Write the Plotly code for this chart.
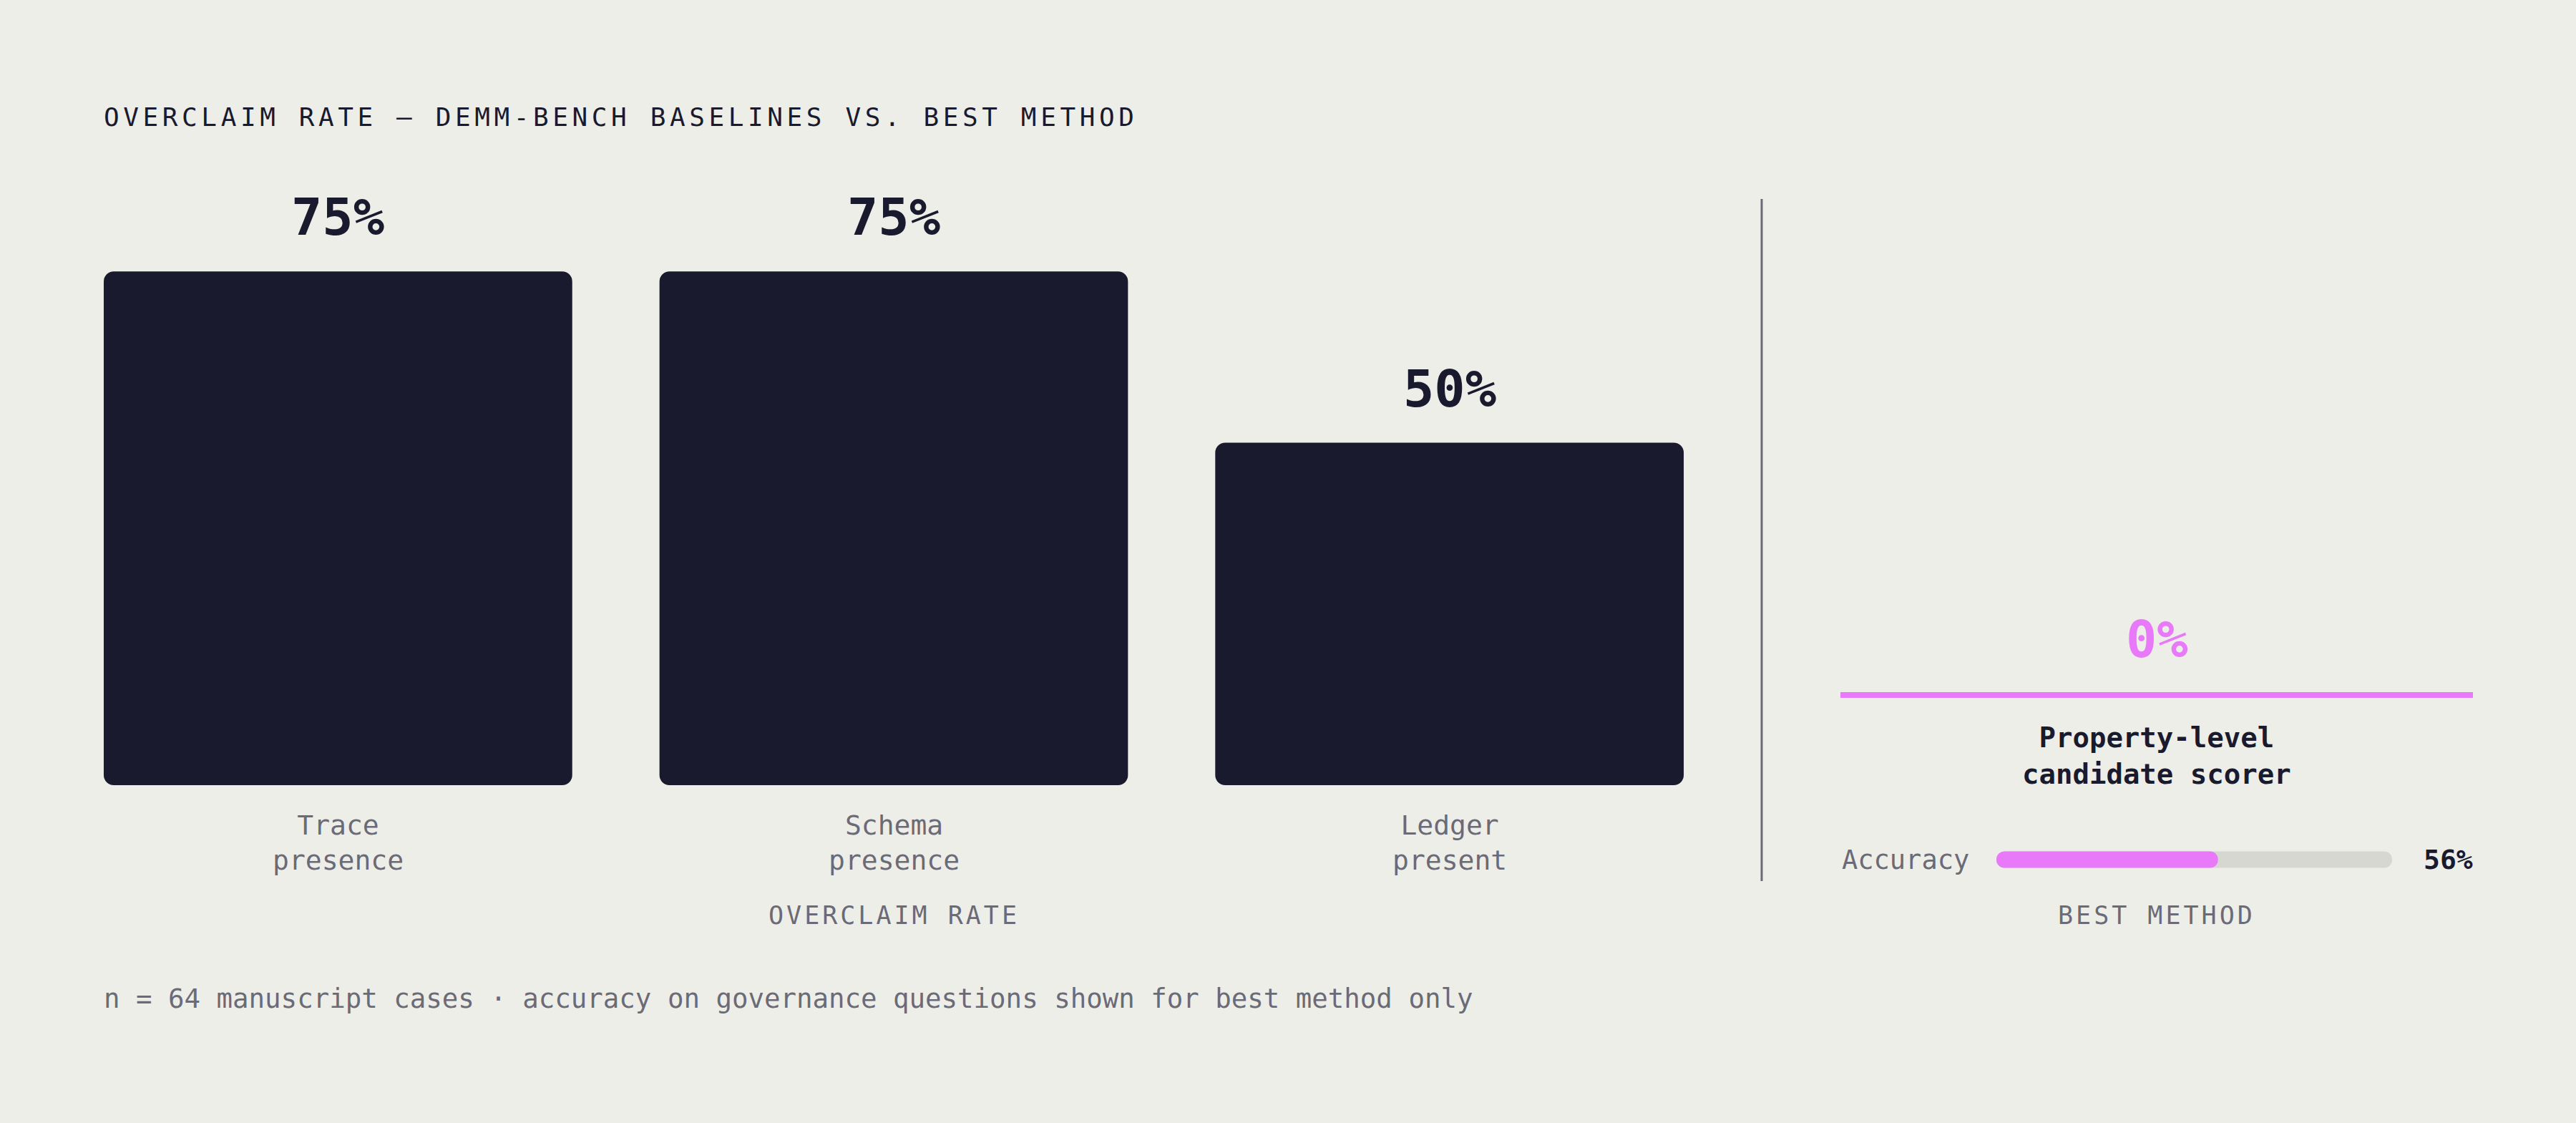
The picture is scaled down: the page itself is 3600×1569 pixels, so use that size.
import plotly.graph_objects as go

# ---------------- data ----------------
categories = ["Trace presence", "Schema presence", "Ledger present"]
overclaim_rates = [75, 75, 50]
best_method_name = "Property-level candidate scorer"
best_overclaim = [0]
best_accuracy = [56]
accuracy_max = [100]

title_text = "OVERCLAIM RATE — DEMM-BENCH BASELINES VS. BEST METHOD"
footnote_text = "n = 64 manuscript cases · accuracy on governance questions shown for best method only"

# ---------------- style ----------------
W, H = 3600, 1569
BG = "#eeeee9"
DARK = "#1a1a2e"
GREY = "#6b6a77"
PINK = "#e879f9"
TRACK = "#d7d7d1"
FONT = "DejaVu Sans Mono"


def px_x(p):
    return p / W


def px_y(p):
    return 1 - p / H


fig = go.Figure()

# --- left panel: baseline overclaim bars
fig.add_trace(go.Bar(x=categories, y=overclaim_rates, base=[0] * len(overclaim_rates),
                     marker=dict(color=DARK, cornerradius=14, line=dict(width=0)),
                     xaxis="x", yaxis="y", hoverinfo="skip", showlegend=False))

# --- right panel: best-method overclaim (zero) line
fig.add_trace(go.Scatter(x=[0, 1], y=[best_overclaim[0], best_overclaim[0]], mode="lines",
                         line=dict(color=PINK, width=8), xaxis="x3", yaxis="y3",
                         hoverinfo="skip", showlegend=False))

# --- accuracy pill bar
for vals, col in ((accuracy_max, TRACK), (best_accuracy, PINK)):
    fig.add_trace(go.Bar(y=[0], x=vals, base=[0], orientation="h",
                         width=0.575, marker=dict(color=col, cornerradius=12, line=dict(width=0)),
                         xaxis="x2", yaxis="y2", hoverinfo="skip", showlegend=False))

annotations = []
for c, v in zip(categories, overclaim_rates):
    annotations.append(dict(x=c, y=v, xref="x", yref="y", text=f"{v}%", showarrow=False,
                            yanchor="middle", yshift=76,
                            font=dict(family=FONT, size=72, color=DARK, weight="bold")))
    annotations.append(dict(x=c, y=0, xref="x", yref="y", text=c.replace(" ", "<br>"),
                            showarrow=False, yanchor="middle", yshift=-80,
                            font=dict(family=FONT, size=38, color=GREY)))

annotations.append(dict(x=categories[1], y=px_y(1279), xref="x", yref="paper", text="OVERCLAIM RATE",
                        showarrow=False, yanchor="middle",
                        font=dict(family=FONT, size=35, color=GREY)))

annotations.append(dict(x=0.5, y=best_overclaim[0], xref="x3", yref="y3", text=f"{best_overclaim[0]}%",
                        showarrow=False, yanchor="middle", yshift=78,
                        font=dict(family=FONT, size=72, color=PINK, weight="bold")))
annotations.append(dict(x=0.5, y=best_overclaim[0], xref="x3", yref="y3",
                        text=best_method_name.replace("level ", "level<br>"),
                        showarrow=False, yanchor="middle", yshift=-85,
                        font=dict(family=FONT, size=39, color=DARK, weight="bold")))
annotations.append(dict(x=px_x(2572), y=0, xref="paper", yref="y2", text="Accuracy",
                        showarrow=False, xanchor="left", yanchor="middle",
                        font=dict(family=FONT, size=37, color=GREY)))
annotations.append(dict(x=px_x(3458), y=0, xref="paper", yref="y2", text=f"{best_accuracy[0]}%",
                        showarrow=False, xanchor="right", yanchor="middle",
                        font=dict(family=FONT, size=38, color=DARK, weight="bold")))
annotations.append(dict(x=0.5, y=px_y(1279), xref="x3", yref="paper", text="BEST METHOD",
                        showarrow=False, yanchor="middle",
                        font=dict(family=FONT, size=35, color=GREY)))

annotations.append(dict(x=px_x(143), y=px_y(1395), xref="paper", yref="paper", text=footnote_text,
                        showarrow=False, xanchor="left", yanchor="middle",
                        font=dict(family=FONT, size=37.4, color=GREY)))

y3_bottom_px = 971 + (971 - 140) / 10  # 0 sits at 971 px with range [-10, 100]

fig.update_layout(
    width=W, height=H, autosize=False,
    margin=dict(l=0, r=0, t=0, b=0),
    paper_bgcolor=BG, plot_bgcolor="rgba(0,0,0,0)",
    barmode="overlay", bargap=0.157,
    title=dict(text=title_text, x=px_x(145), xanchor="left", xref="paper",
               y=px_y(163), yanchor="middle", yref="paper",
               font=dict(family=FONT, size=36, color=DARK)),
    xaxis=dict(domain=[px_x(84), px_x(2414)], range=[-0.5, 2.5], visible=False, fixedrange=True),
    yaxis=dict(domain=[px_y(1097), px_y(140)], range=[0, 100], visible=False, fixedrange=True),
    xaxis2=dict(domain=[px_x(2790), px_x(3343)], range=[0, 100], visible=False, anchor="y2"),
    yaxis2=dict(domain=[px_y(1221), px_y(1181)], range=[-0.5, 0.5], visible=False, anchor="x2"),
    xaxis3=dict(domain=[px_x(2572), px_x(3456)], range=[0, 1], visible=False, anchor="y3"),
    yaxis3=dict(domain=[px_y(y3_bottom_px), px_y(140)], range=[-10, 100], visible=False, anchor="x3"),
    annotations=annotations,
    shapes=[dict(type="line", xref="paper", yref="paper", x0=px_x(2462), x1=px_x(2462),
                 y0=px_y(278), y1=px_y(1231), line=dict(color=GREY, width=3))],
    showlegend=False,
)

post = """
document.body.style.margin = '0';
document.body.style.overflow = 'hidden';
document.body.style.background = '#eeeee9';
var gd = document.getElementById('{plot_id}');
gd.querySelectorAll('text').forEach(function(t){
  var s = t.textContent;
  if (s === 'OVERCLAIM RATE' || s === 'BEST METHOD') { t.style.letterSpacing = '4px'; }
  else if (s.indexOf('DEMM-BENCH') >= 0) { t.style.letterSpacing = '5.6px'; }
});
"""

fig.write_html("out.html", config={"displayModeBar": False, "staticPlot": True}, post_script=post)
